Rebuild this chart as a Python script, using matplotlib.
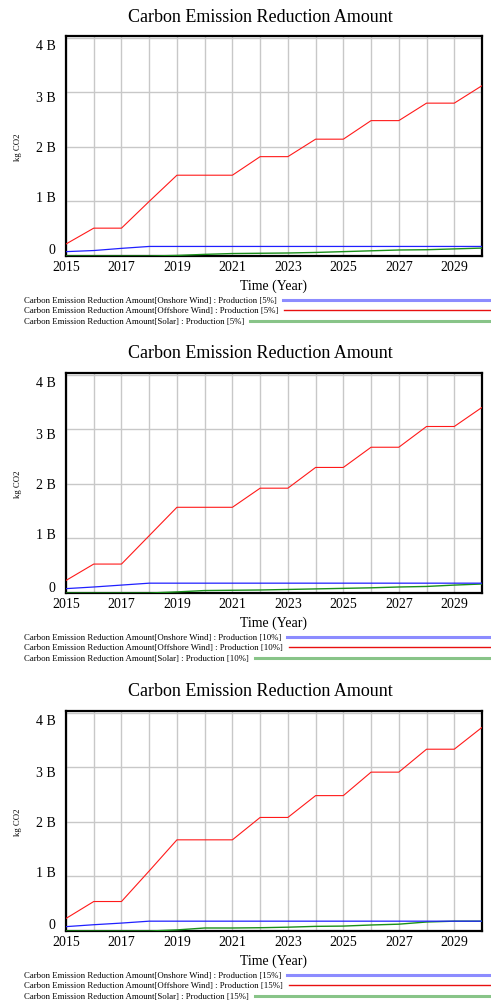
import matplotlib
matplotlib.use("Agg")
import matplotlib.pyplot as plt
from matplotlib.transforms import ScaledTranslation
import numpy as np

years = list(range(2015, 2031))
scenarios = ["5%", "10%", "15%"]

onshore_5 = [0.08, 0.10, 0.14, 0.175, 0.175, 0.175, 0.175, 0.175, 0.175, 0.175, 0.175, 0.175, 0.175, 0.175, 0.175, 0.175]
offshore_5 = [0.22, 0.51, 0.51, 1.00, 1.48, 1.48, 1.48, 1.82, 1.82, 2.14, 2.14, 2.48, 2.48, 2.80, 2.80, 3.12]
solar_5 = [0.0, 0.0, 0.0, 0.0, 0.01, 0.03, 0.045, 0.05, 0.055, 0.065, 0.08, 0.095, 0.11, 0.115, 0.13, 0.145]

onshore_10 = [0.08, 0.11, 0.145, 0.18, 0.18, 0.18, 0.18, 0.18, 0.18, 0.18, 0.18, 0.18, 0.18, 0.18, 0.18, 0.18]
offshore_10 = [0.23, 0.53, 0.53, 1.05, 1.57, 1.57, 1.57, 1.92, 1.92, 2.30, 2.30, 2.67, 2.67, 3.05, 3.05, 3.40]
solar_10 = [0.0, 0.0, 0.0, 0.0, 0.02, 0.045, 0.05, 0.055, 0.065, 0.075, 0.085, 0.095, 0.11, 0.12, 0.145, 0.165]

onshore_15 = [0.08, 0.115, 0.145, 0.18, 0.18, 0.18, 0.18, 0.18, 0.18, 0.18, 0.18, 0.18, 0.18, 0.18, 0.18, 0.18]
offshore_15 = [0.23, 0.54, 0.54, 1.10, 1.67, 1.67, 1.67, 2.08, 2.08, 2.48, 2.48, 2.91, 2.91, 3.33, 3.33, 3.73]
solar_15 = [0.0, 0.0, 0.0, 0.0, 0.02, 0.055, 0.055, 0.06, 0.07, 0.085, 0.09, 0.11, 0.125, 0.165, 0.18, 0.18]

onshore = [onshore_5, onshore_10, onshore_15]
offshore = [offshore_5, offshore_10, offshore_15]
solar = [solar_5, solar_10, solar_15]

title = "Carbon Emission Reduction Amount"
ytick_vals = [0, 1, 2, 3, 4]
ytick_labels = ["0", "1 B", "2 B", "3 B", "4 B"]
xtick_labels = [str(y) if (y - 2015) % 2 == 0 else "" for y in years]
series_names = ["Onshore Wind", "Offshore Wind", "Solar"]

W, H = 491, 1003
DPI = 100
plt.rcParams['font.family'] = ['Liberation Serif', 'DejaVu Serif']
fig = plt.figure(figsize=(W / DPI, H / DPI), dpi=DPI)

def fx(px):
    return px / W

def fy(py):
    return 1 - py / H

left, right = 66, 482
tops = [37, 374, 712]
ah = 220

line_colors = ["#2020ff", "#ff1a1a", "#1a8f1a"]
leg_colors = ["#8c8cff", "#e81010", "#88c488"]
leg_lw = [2.2, 1.0, 2.2]
label_dy = [7.5, 5.5, 0.5, -4.0, -6.5]  # px, positive = up

renderer = fig.canvas.get_renderer()

for i, top in enumerate(tops):
    bottom = top + ah
    ax = fig.add_axes([fx(left), fy(bottom), fx(right - left), ah / H])
    yrs = np.array(years)
    ax.plot(yrs, np.array(solar[i]) * 1e9, color=line_colors[2], lw=1.0, zorder=3)
    ax.plot(yrs, np.array(offshore[i]) * 1e9, color=line_colors[1], lw=0.8, zorder=4)
    ax.plot(yrs, np.array(onshore[i]) * 1e9, color=line_colors[0], lw=0.9, zorder=5)
    ax.set_xlim(2015, 2030)
    ax.set_ylim(0, 4.03e9)
    ax.set_xticks(years)
    ax.set_xticklabels(xtick_labels, fontsize=10)
    ax.set_yticks([v * 1e9 for v in ytick_vals])
    ax.set_yticklabels(ytick_labels, fontsize=10)
    ax.tick_params(length=0, pad=3)
    ax.tick_params(axis='y', pad=7.5)
    for lab, dy in zip(ax.get_yticklabels(), label_dy):
        lab.set_transform(lab.get_transform() + ScaledTranslation(0, dy / DPI, fig.dpi_scale_trans))
    ax.grid(True, color="#c8c8c8", lw=1.0)
    ax.set_axisbelow(True)
    for sp in ax.spines.values():
        sp.set_linewidth(1.6)
        sp.set_color("black")
    fig.text(fx(260), fy(top - 20), title, ha='center', va='center', fontsize=13.0)
    fig.text(fx(273), fy(bottom + 29), "Time (Year)", ha='center', va='center', fontsize=10)
    fig.text(fx(18), fy((top + bottom) / 2), "kg CO2", rotation=90, ha='center', va='center', fontsize=6.3)
    for k, name in enumerate(series_names):
        yy = bottom + 43.7 + 10.6 * k
        t = fig.text(fx(24), fy(yy), f"Carbon Emission Reduction Amount[{name}] : Production [{scenarios[i]}]",
                     ha='left', va='center', fontsize=6.3)
        ext = t.get_window_extent(renderer=renderer)
        x0 = ext.x1 + 6
        fig.add_artist(plt.Line2D([x0 / W, fx(490)], [fy(yy), fy(yy)], color=leg_colors[k], lw=leg_lw[k]))

fig.savefig("out.png", dpi=DPI)
